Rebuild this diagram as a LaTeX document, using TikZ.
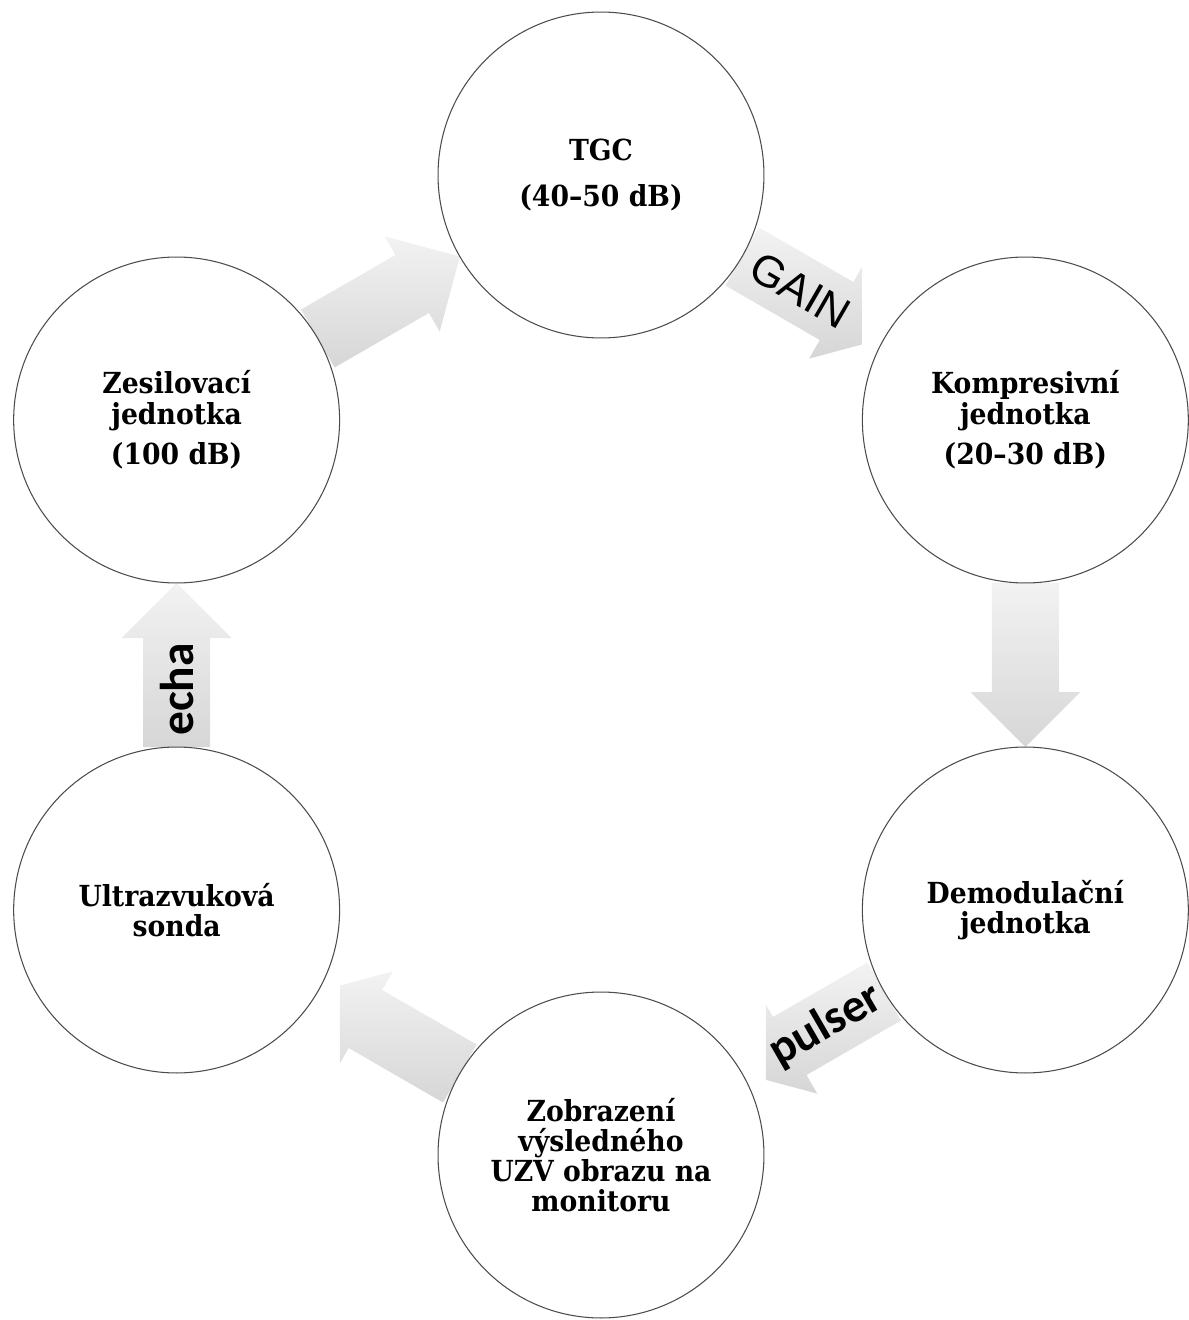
\documentclass[tikz,border=0pt]{standalone}
\usepackage{fontspec}
\usetikzlibrary{calc,positioning,backgrounds}

\newfontfamily\unitfont{DejaVu Serif}[FakeStretch=0.92]
\newfontfamily\tagfont{Carlito}
\newfontfamily\gainfont{Liberation Sans}

% block arrow between two units: from, to, angle
\newcommand{\flow}[3]{%
	\begin{scope}[shift={($(#1)!0.5!(#2)$)},rotate=#3]
		\path[flow] (-82,-33.5) -- (27,-33.5) -- (27,-55) -- (82,0) -- (27,55) -- (27,33.5) -- (-82,33.5) -- cycle;
	\end{scope}}

\begin{document}
\begin{tikzpicture}[x=0.02cm,y=0.02cm,
		unit/.style={circle,draw=black!70,line width=0.6pt,fill=white,minimum size=6.52cm,
			align=center,font=\unitfont\bfseries\fontsize{16.5}{17.2}\selectfont},
		flow/.style={top color=black!5,bottom color=black!16,draw=none},
		tag/.style={inner sep=0pt,font=\tagfont\bfseries\fontsize{27}{30}\selectfont},
		gaintag/.style={inner sep=0pt,font=\gainfont\fontsize{25}{28}\selectfont}]

	\useasboundingbox (-601,-655) rectangle (588,665);

	\node[unit]	(tgc)		at (90:490)	{TGC\\[9pt](40–50 dB)};
	\node[unit]	(komp)		at (30:490)	{Kompresivní\\jednotka\\[6pt](20–30 dB)};
	\node[unit]	(demod)		at (-30:490)	{Demodulační\\jednotka};
	\node[unit]	(zobraz)	at (270:490)	{Zobrazení\\výsledného\\UZV obrazu na\\monitoru};
	\node[unit]	(sonda)		at (210:490)	{Ultrazvuková\\sonda};
	\node[unit]	(zesil)		at (150:490)	{Zesilovací\\jednotka\\[6pt](100 dB)};

	\begin{scope}[on background layer]
		\flow{zesil}{tgc}{30}
		\begin{scope}
			\clip (-601,-655) rectangle (261,665);
			\flow{tgc}{komp}{-30}
		\end{scope}
		\flow{komp}{demod}{-90}
		\begin{scope}
			\clip (165,-655) rectangle (588,665);
			\flow{demod}{zobraz}{210}
		\end{scope}
		\begin{scope}
			\clip (-261,-655) rectangle (588,665);
			\flow{zobraz}{sonda}{150}
		\end{scope}
		\flow{sonda}{zesil}{90}
	\end{scope}

	\node[gaintag,rotate=-30]	(gain)		at ($(tgc)!0.47!(komp)$)	{GAIN};
	\node[tag,rotate=30]		(pulser)	at ($(demod)!0.47!(zobraz)$)	{pulser};
	\node[tag,rotate=90]		(echa)		at ($(sonda)!0.45!(zesil)$)	{echa};
\end{tikzpicture}
\end{document}
